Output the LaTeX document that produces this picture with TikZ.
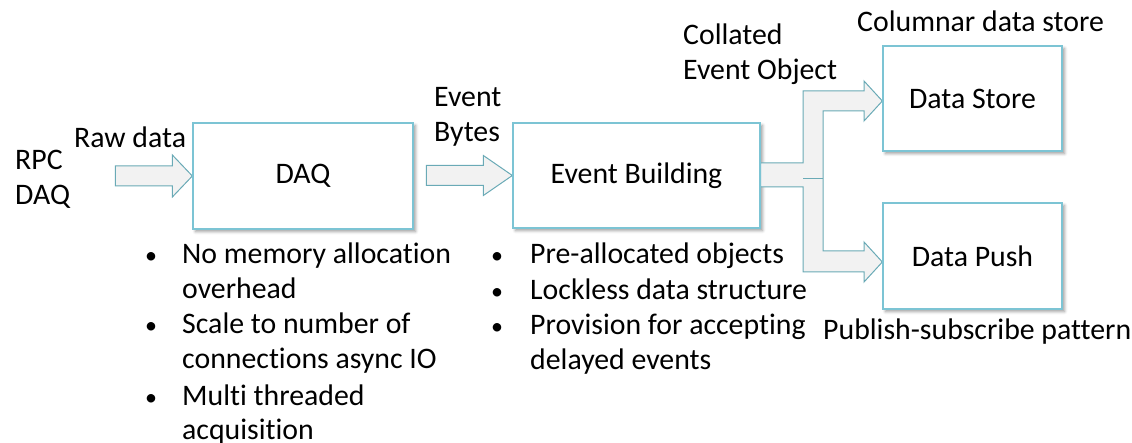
\documentclass[tikz,border=0pt]{standalone}
\usepackage{fontspec}
\setmainfont{Carlito}[Ligatures={NoCommon}]
\usetikzlibrary{shadows.blur,calc}
\definecolor{boxline}{HTML}{7CC4D4}
\definecolor{arrline}{HTML}{6AAAB6}
\definecolor{arrfill}{HTML}{F2F2F2}
\begin{document}
\begin{tikzpicture}[x=1pt,y=-1pt,
  font=\fontsize{29.8}{35}\selectfont,
  block/.style={draw=boxline, line width=1.3pt, fill=white, inner sep=0pt,
    blur shadow={shadow xshift=2.5pt, shadow yshift=-2.5pt, shadow blur radius=3pt, shadow opacity=40}},
  blockarrow/.style={draw=arrline, fill=arrfill, line width=1pt, line join=miter},
  txt/.style={anchor=base west, inner sep=0pt},
  dot/.style={anchor=base, inner sep=0pt, font=\fontsize{24}{35}\selectfont}]
\useasboundingbox (0,0) rectangle (1132,443);

% processing stages
\node[block, minimum width=220pt, minimum height=106pt] (daq) at (303,176) {DAQ};
\node[block, minimum width=247pt, minimum height=105pt] (eb) at (636.5,175.5) {Event Building};
\node[block, minimum width=179pt, minimum height=105pt] (ds) at (972.5,98.5) {Data Store};
\node[block, minimum width=179pt, minimum height=106pt] (dp) at (972.5,256) {Data Push};

% block arrows between stages
\draw[blockarrow] (daq.west) -- ++(-20,-21) -- ++(0,11) -- ++(-57,0) -- ++(0,20)
  -- ++(57,0) -- ++(0,11) -- cycle;
\draw[blockarrow] (eb.west) -- ++(-29,-20) -- ++(0,10) -- ++(-57,0) -- ++(0,20)
  -- ++(57,0) -- ++(0,10) -- cycle;
\coordinate (tipS) at ($(ds.west)+(0,2.5)$);
\coordinate (tipP) at ($(dp.west)+(0,6)$);
\draw[blockarrow] ($(eb.east)+(0,-12.5)$) -- (803,163) -- (803,91) -- (864,91) -- (864,81)
  -- (tipS) -- (864,121) -- (864,111) -- (823,111) -- (823,251) -- (864,251) -- (864,242)
  -- (tipP) -- (864,282) -- (864,272) -- (803,272) -- (803,187) -- ($(eb.east)+(0,11.5)$) -- cycle;
\draw[draw=arrline, line width=1pt] (803,179) -- (823,179);

% redraw stage borders over the arrow ends
\draw[draw=boxline, line width=1.3pt] (daq.north west) rectangle (daq.south east);
\draw[draw=boxline, line width=1.3pt] (eb.north west) rectangle (eb.south east);
\draw[draw=boxline, line width=1.3pt] (ds.north west) rectangle (ds.south east);
\draw[draw=boxline, line width=1.3pt] (dp.north west) rectangle (dp.south east);

% labels
\node[txt] (rpc) at (15,170) {RPC};
\node[txt] (rpcdaq) at (15,205) {DAQ};
\node[txt] (raw) at (74,148) {Raw data};
\node[txt] (ev1) at (434,107) {Event};
\node[txt] (ev2) at (434,142) {Bytes};
\node[txt] (col1) at (683,45) {Collated};
\node[txt] (col2) at (683,80) {Event Object};
\node[txt] (cds) at (857,32) {Columnar data store};
\node[txt] (pub) at (823,340) {Publish-subscribe pattern};

% DAQ notes
\node[dot] (b1) at (151,264) {\textbullet};
\node[txt] (l1) at (182,264) {No memory allocation};
\node[txt] (l2) at (182,299) {overhead};
\node[dot] (b2) at (151,334) {\textbullet};
\node[txt] (l3) at (182,334) {Scale to number of};
\node[txt] (l4) at (182,369) {connections async IO};
\node[dot] (b3) at (151,405) {\textbullet};
\node[txt] (l5) at (182,405) {Multi threaded};
\node[txt] (l6) at (182,439) {acquisition};

% event building notes
\node[dot] (c1) at (497,264) {\textbullet};
\node[txt] (m1) at (530,264) {Pre-allocated objects};
\node[dot] (c2) at (497,300) {\textbullet};
\node[txt] (m2) at (530,300) {Lockless data structure};
\node[dot] (c3) at (497,335) {\textbullet};
\node[txt] (m3) at (530,335) {Provision for accepting};
\node[txt] (m4) at (530,370) {delayed events};
\end{tikzpicture}
\end{document}
